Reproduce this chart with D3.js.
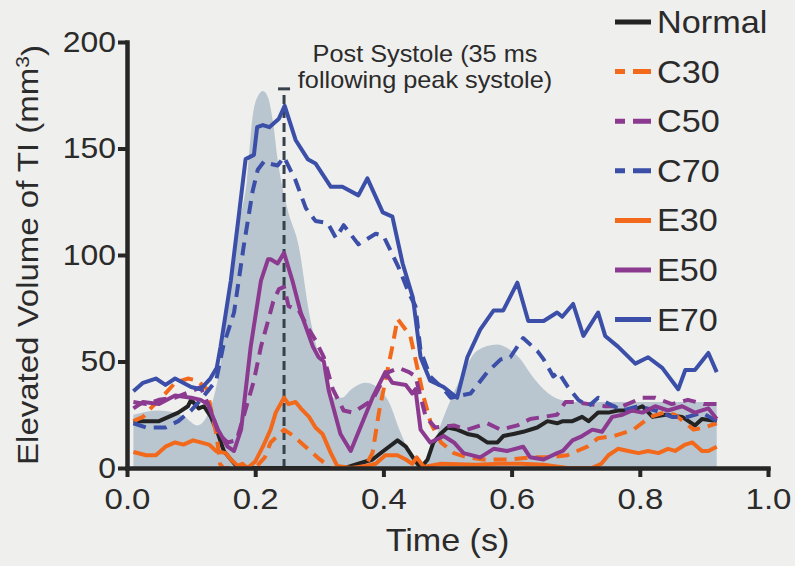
<!DOCTYPE html>
<html>
<head>
<meta charset="utf-8">
<script src="https://cdn.jsdelivr.net/npm/d3@7"></script>
<style>
  body { margin: 0; background: #efefed; }
  #chart { width: 795px; height: 566px; }
  text { font-family: "Liberation Sans", Arial, Helvetica, sans-serif; fill: #2b2b2b; }
</style>
</head>
<body>
<div id="chart"></div>
<script>
// ---- data: [time (s), elevated volume of TI (mm3)] ----
var seriesNames = ["Normal", "C30", "C50", "C70", "E30", "E50", "E70"];

var normal = [[0.01,22],[0.03,22],[0.05,22],[0.065,24],[0.08,26],[0.095,29],[0.1,32],[0.112,28],[0.12,29],[0.131,24],[0.142,16],[0.151,8],[0.162,4],[0.172,0.5],[0.2,0],[0.3,0],[0.34,0],[0.361,2],[0.383,4],[0.4,8],[0.422,13],[0.435,10],[0.446,5],[0.458,0],[0.469,4],[0.478,12],[0.489,16],[0.5,19],[0.515,18],[0.531,16],[0.547,15],[0.562,12],[0.578,12],[0.587,15],[0.603,16],[0.618,17],[0.64,19],[0.656,22],[0.671,21],[0.68,22],[0.695,22],[0.71,24],[0.72,22],[0.735,26],[0.751,26],[0.766,27],[0.788,27],[0.804,29],[0.82,24],[0.84,25],[0.866,24],[0.886,20],[0.897,23],[0.92,22]];

var c30 = [[0.01,22],[0.025,24],[0.04,29],[0.06,35],[0.075,40],[0.095,42],[0.11,41],[0.125,37],[0.13,29],[0.14,15],[0.145,2],[0.15,0],[0.2,0],[0.215,5],[0.224,12],[0.245,18],[0.26,15],[0.271,12],[0.297,5],[0.318,0],[0.37,0],[0.383,7],[0.393,26],[0.403,41],[0.414,57],[0.422,70],[0.442,62],[0.453,47],[0.463,33],[0.474,21],[0.49,12],[0.51,7],[0.531,5],[0.556,4],[0.598,4],[0.629,5],[0.66,5],[0.687,6],[0.718,10],[0.735,14],[0.76,15],[0.79,18],[0.816,24],[0.837,26],[0.855,25],[0.884,18],[0.9,19],[0.92,21]];

var c50 = [[0.01,31],[0.03,30],[0.05,32],[0.075,33],[0.1,36],[0.115,38],[0.122,33],[0.131,27],[0.143,16],[0.157,12],[0.171,13],[0.198,41],[0.209,57],[0.22,69],[0.228,78],[0.237,84],[0.245,85],[0.252,76],[0.268,74],[0.282,66],[0.294,60],[0.307,52],[0.321,37],[0.338,27],[0.352,26],[0.368,29],[0.383,32],[0.399,41],[0.408,45],[0.424,47],[0.44,45],[0.45,43],[0.466,24],[0.481,19],[0.51,20],[0.531,18],[0.562,21],[0.583,18],[0.609,20],[0.629,23],[0.65,24],[0.671,25],[0.684,31],[0.7,31],[0.72,30],[0.746,29],[0.773,29],[0.804,33],[0.824,33],[0.85,30],[0.875,32],[0.9,30],[0.92,30]];

var c70 = [[0.01,21],[0.03,19],[0.06,19],[0.08,22],[0.1,27],[0.115,32],[0.139,41],[0.15,57],[0.167,73],[0.182,104],[0.196,130],[0.204,140],[0.214,144],[0.22,143],[0.235,142],[0.245,146],[0.263,135],[0.279,122],[0.294,116],[0.313,115],[0.326,108],[0.338,114],[0.361,105],[0.388,110],[0.4,109],[0.424,94],[0.44,82],[0.45,76],[0.458,55],[0.473,43],[0.494,37],[0.505,33],[0.536,35],[0.562,45],[0.583,51],[0.598,52],[0.618,61],[0.64,55],[0.65,51],[0.665,43],[0.673,45],[0.688,38],[0.704,32],[0.72,29],[0.735,33],[0.746,31],[0.773,27],[0.798,29],[0.824,27],[0.85,24],[0.875,24],[0.897,26],[0.92,22]];

var e30 = [[0.01,7.5],[0.03,6],[0.045,6],[0.06,10],[0.075,12],[0.088,11],[0.103,13],[0.115,12],[0.128,11],[0.139,8],[0.154,7],[0.162,4],[0.173,1],[0.18,2],[0.188,0],[0.2,3],[0.212,10],[0.224,18],[0.232,26],[0.245,33],[0.252,30],[0.263,31],[0.271,28],[0.284,24],[0.294,19],[0.305,16],[0.318,7],[0.328,1],[0.35,0],[0.372,1],[0.388,2],[0.403,6],[0.422,6],[0.435,4],[0.445,2],[0.452,5],[0.463,0.5],[0.49,2],[0.545,1.5],[0.58,2],[0.614,2],[0.65,1.5],[0.687,0],[0.725,0],[0.74,2],[0.751,6],[0.766,9],[0.782,8],[0.798,7],[0.813,8],[0.829,7],[0.844,9],[0.855,8],[0.871,11],[0.882,12],[0.897,8],[0.907,8],[0.92,10]];

var e50 = [[0.01,28],[0.025,31],[0.05,30],[0.075,34],[0.1,33],[0.115,32],[0.126,30],[0.142,18],[0.157,10],[0.167,8],[0.178,18],[0.193,57],[0.209,88],[0.22,98],[0.224,98],[0.235,96],[0.245,101],[0.258,88],[0.271,73],[0.29,57],[0.299,52],[0.307,50],[0.315,36],[0.333,16],[0.349,8],[0.368,22],[0.383,33],[0.403,45],[0.414,40],[0.435,39],[0.445,35],[0.45,37],[0.458,18],[0.473,12],[0.494,15],[0.51,12],[0.525,7],[0.551,5],[0.572,9],[0.593,8],[0.618,10],[0.629,5],[0.65,4],[0.671,7],[0.68,8],[0.695,13],[0.71,15],[0.726,18],[0.741,17],[0.757,24],[0.773,25],[0.788,27],[0.804,26],[0.824,29],[0.844,27],[0.866,29],[0.886,26],[0.907,28],[0.92,23]];

var e70 = [[0.01,36],[0.025,40],[0.045,42],[0.06,39],[0.075,42],[0.1,38],[0.115,37],[0.13,42],[0.14,47],[0.146,57],[0.162,88],[0.175,120],[0.185,145],[0.198,147],[0.203,160],[0.212,161],[0.222,160],[0.237,164],[0.246,170],[0.263,154],[0.282,145],[0.294,143],[0.318,132],[0.336,132],[0.361,128],[0.375,136],[0.399,120],[0.414,118],[0.43,96],[0.446,80],[0.458,52],[0.473,41],[0.494,38],[0.515,33],[0.531,52],[0.551,65],[0.572,74],[0.587,74],[0.609,87],[0.626,69],[0.65,69],[0.671,73],[0.679,71],[0.696,77],[0.712,62],[0.735,73],[0.746,62],[0.766,57],[0.793,49],[0.813,52],[0.835,47],[0.86,37],[0.871,46],[0.886,46],[0.907,54],[0.92,45]];

// grey shaded reference profile behind the curves
var profile = [[0.01,25],[0.05,27],[0.09,24],[0.11,20],[0.13,28],[0.146,49],[0.162,88],[0.175,115],[0.187,135],[0.196,165],[0.205,175],[0.212,177],[0.22,174],[0.228,162],[0.235,145],[0.25,122],[0.268,104],[0.284,73],[0.3,52],[0.313,41],[0.322,33],[0.335,33],[0.35,37],[0.372,40],[0.39,38],[0.41,30],[0.425,18],[0.44,8],[0.455,2],[0.465,2],[0.474,8],[0.494,24],[0.505,32],[0.525,45],[0.546,55],[0.577,58],[0.595,56],[0.614,51],[0.63,44],[0.65,37],[0.676,32],[0.7,31],[0.92,31]];

var xTicks = [0, 0.2, 0.4, 0.6, 0.8, 1.0];
var yTicks = [0, 50, 100, 150, 200];
var markerTime = 0.245;   // post systole
var markerTop = 178;
var noteLines = ["Post Systole (35 ms", "following peak systole)"];

/**
 * Constructor for the TI volume chart
 */
function TiVolumeChart(){
    var self = this;
    self.init();
}

/**
 * Sets up the svg and the scales
 */
TiVolumeChart.prototype.init = function(){
    var self = this;
    self.svgWidth = 795;
    self.svgHeight = 566;
    self.sx = 1.1;   // the scanned lettering is a bit wide

    self.svg = d3.select("#chart").append("svg")
        .attr("width", self.svgWidth)
        .attr("height", self.svgHeight);

    self.x = d3.scaleLinear().domain([0, 1]).range([127, 768]);
    self.y = d3.scaleLinear().domain([0, 200]).range([468, 42]);
};

/**
 * Returns colour / dash style for a series
 */
TiVolumeChart.prototype.chooseStyle = function(name){
    var colour = "#232323";
    if (name.slice(1) == "30") colour = "#f2691c";
    else if (name.slice(1) == "50") colour = "#8b3a8f";
    else if (name.slice(1) == "70") colour = "#3b4fa8";
    return {colour: colour, dashed: name.charAt(0) == "C"};
};

/**
 * Text that gets stretched horizontally like the original lettering
 */
TiVolumeChart.prototype.addText = function(g, x, y, str, size, anchor, sx){
    var self = this;
    return g.append("text")
        .attr("transform", "translate(" + x + "," + y + ") scale(" + (sx || self.sx) + ",1)")
        .attr("text-anchor", anchor)
        .style("font-size", size + "px")
        .text(str);
};

/**
 * Draws everything
 */
TiVolumeChart.prototype.update = function(){
    var self = this;
    var x = self.x, y = self.y;
    var lookup = {Normal: normal, C30: c30, C50: c50, C70: c70, E30: e30, E50: e50, E70: e70};

    // grey profile
    var area = d3.area()
        .x(function(d){ return x(d[0]); })
        .y0(y(0))
        .y1(function(d){ return y(d[1]); })
        .curve(d3.curveMonotoneX);
    self.svg.append("path")
        .datum(profile)
        .attr("d", area)
        .style("fill", "#b9c6d0");

    // post systole marker
    self.svg.append("line")
        .attr("x1", x(markerTime)).attr("x2", x(markerTime))
        .attr("y1", y(0)).attr("y2", y(markerTop))
        .style("stroke", "#36414b")
        .style("stroke-width", 3)
        .style("stroke-dasharray", "9,5");
    self.svg.append("line")
        .attr("x1", x(markerTime) - 6).attr("x2", x(markerTime) + 6)
        .attr("y1", y(markerTop)).attr("y2", y(markerTop))
        .style("stroke", "#36414b")
        .style("stroke-width", 3);

    // series
    var line = d3.line()
        .x(function(d){ return x(d[0]); })
        .y(function(d){ return y(d[1]); });

    seriesNames.forEach(function(name){
        var st = self.chooseStyle(name);
        self.svg.append("path")
            .datum(lookup[name])
            .attr("d", line)
            .style("fill", "none")
            .style("stroke", st.colour)
            .style("stroke-width", 4)
            .style("stroke-linejoin", "round")
            .style("stroke-dasharray", st.dashed ? "13,8" : null);
    });

    // axes
    var yAxis = d3.axisLeft(y).tickValues(yTicks).tickSize(9).tickSizeOuter(0).tickPadding(1);
    var xAxis = d3.axisBottom(x).tickValues(xTicks).tickSize(9).tickSizeOuter(0).tickPadding(11)
        .tickFormat(d3.format(".1f"));

    var gy = self.svg.append("g").attr("transform", "translate(" + x(0) + ",0)").call(yAxis);
    var gx = self.svg.append("g").attr("transform", "translate(0," + y(0) + ")").call(xAxis);

    [gx, gy].forEach(function(g){
        g.select(".domain").style("stroke", "#262626").style("stroke-width", 4.5)
            .style("stroke-linecap", "square");
        g.selectAll(".tick line").style("stroke", "#262626").style("stroke-width", 4);
        g.selectAll(".tick text")
            .attr("transform", "scale(" + self.sx + ",1)")
            .style("font-family", "'Liberation Sans', Arial, sans-serif")
            .style("font-size", "29px")
            .style("fill", "#2b2b2b");
    });
    gx.selectAll(".tick text").style("font-size", "30px");

    // axis titles
    self.addText(self.svg, (x(0) + x(1)) / 2, 551, "Time (s)", 31, "middle");

    var yt = self.svg.append("text")
        .attr("transform", "translate(38," + (y(0) + y(200)) / 2 + ") rotate(-90) scale(1.1,1)")
        .attr("text-anchor", "middle")
        .style("font-size", "30px");
    yt.append("tspan").text("Elevated Volume of TI (mm");
    yt.append("tspan").attr("dy", "-0.45em").style("font-size", "19px").text("3");
    yt.append("tspan").attr("dy", "0.45em").text(")");

    // annotation
    noteLines.forEach(function(s, i){
        self.addText(self.svg, 425, 62 + i * 26, s, 23, "middle");
    });

    // legend
    var legend = self.svg.append("g");
    seriesNames.forEach(function(name, i){
        var st = self.chooseStyle(name);
        var base = 33 + i * 49.6;
        legend.append("line")
            .attr("x1", 615).attr("x2", 651)
            .attr("y1", base - 11).attr("y2", base - 11)
            .style("stroke", st.colour)
            .style("stroke-width", 5)
            .style("stroke-dasharray", st.dashed ? "10,8,18,40" : null);
        self.addText(legend, 657, base, name, 32, "start", 1.07);
    });
};

var chart = new TiVolumeChart();
chart.update();
</script>
</body>
</html>
